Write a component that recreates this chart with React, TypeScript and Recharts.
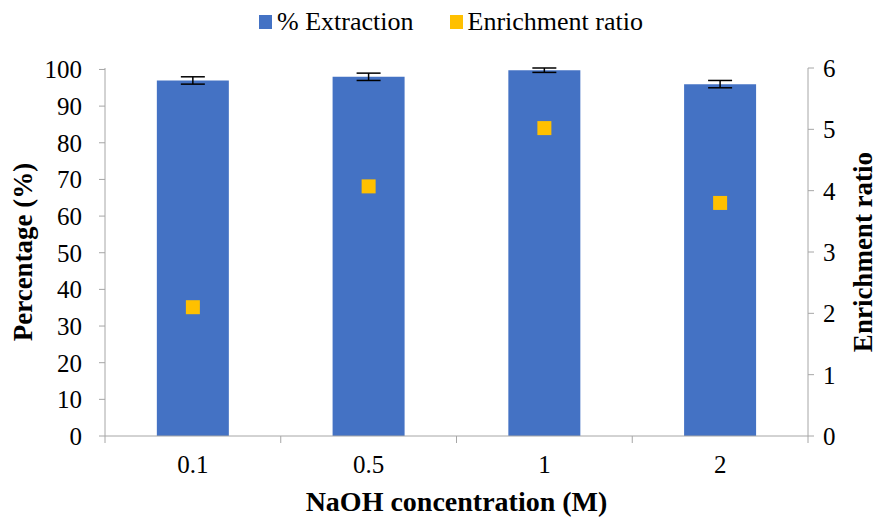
import { ComposedChart, Bar, Scatter, XAxis, YAxis, Legend, ErrorBar, Label } from 'recharts';

// NaOH concentration (M)
const concentrations = ['0.1', '0.5', '1', '2'];
// % Extraction (left axis)
const extraction = [97, 98, 99.8, 96];
const extractionErr = [1, 1, 0.6, 1];
// Enrichment ratio (right axis)
const enrichment = [2.1, 4.07, 5.02, 3.8];

const leftTicks = [0, 10, 20, 30, 40, 50, 60, 70, 80, 90, 100];
const rightTicks = [0, 1, 2, 3, 4, 5, 6];

const legendItems = [
  { name: '% Extraction', color: '#4472C4' },
  { name: 'Enrichment ratio', color: '#FFC000' },
];

const data = concentrations.map((c, i) => ({
  conc: c,
  extraction: extraction[i],
  err: extractionErr[i],
  enrichment: enrichment[i],
}));

const font = '"Liberation Serif", "Times New Roman", serif';
const axisColor = '#a6a6a6';

// tick label at band centre, tick marks at band edges (Excel style)
const CategoryTick = (props: any) => {
  const { x, y, payload, index, visibleTicksCount } = props;
  const half = payload.offset || 88;
  const isLast = index === visibleTicksCount - 1;
  return (
    <g>
      <line x1={x - half} x2={x - half} y1={y - 8} y2={y - 1} stroke={axisColor} />
      {isLast && <line x1={x + half} x2={x + half} y1={y - 8} y2={y - 1} stroke={axisColor} />}
      <text x={x} y={y + 29} textAnchor="middle" fontSize={25} fill="#000" fontFamily={font}>
        {payload.value}
      </text>
    </g>
  );
};

const SquareDot = (props: any) => {
  const { cx, cy } = props;
  if (cx == null || cy == null) return null;
  return <rect x={cx - 7} y={cy - 7} width={14} height={14} fill="#FFC000" />;
};

const LegendContent = () => (
  <div
    style={{
      display: 'flex',
      justifyContent: 'center',
      alignItems: 'center',
      height: 30,
      fontFamily: font,
      fontSize: 26,
      color: '#000',
      paddingLeft: 22,
    }}
  >
    {legendItems.map((item, i) => (
      <div key={item.name} style={{ display: 'flex', alignItems: 'center', marginLeft: i ? 36 : 0 }}>
        <span style={{ display: 'inline-block', width: 13, height: 14, background: item.color, marginRight: 5 }} />
        <span style={{ fontFamily: font, lineHeight: '30px' }}>{item.name}</span>
      </div>
    ))}
  </div>
);

const App = () => {
  return (
    <div style={{ position: 'absolute', left: 0, top: 0, background: '#fff' }}>
      <ComposedChart
        width={880}
        height={517}
        data={data}
        margin={{ top: 38, right: 0, bottom: 0, left: 0 }}
        barCategoryGap="29.5%"
        style={{ fontFamily: font }}
      >
        <XAxis
          dataKey="conc"
          stroke={axisColor}
          tickLine={false}
          tick={<CategoryTick />}
          height={81}
          interval={0}
        >
          <Label
            value="NaOH concentration (M)"
            position="insideBottom"
            offset={6}
            style={{ fontSize: 28, fontWeight: 'bold', fill: '#000', fontFamily: font }}
          />
        </XAxis>
        <YAxis
          yAxisId="left"
          domain={[0, 100]}
          ticks={leftTicks}
          interval={0}
          stroke={axisColor}
          tickSize={6}
          tickMargin={17}
          tick={{ fontSize: 25, fill: '#000', fontFamily: font }}
          width={105}
        >
          <Label
            value="Percentage (%)"
            angle={-90}
            position="insideLeft"
            offset={22}
            style={{ fontSize: 27, fontWeight: 'bold', fill: '#000', fontFamily: font, textAnchor: 'middle' }}
          />
        </YAxis>
        <YAxis
          yAxisId="right"
          orientation="right"
          domain={[0, 6]}
          ticks={rightTicks}
          interval={0}
          stroke={axisColor}
          tickSize={6}
          tickMargin={9}
          tick={{ fontSize: 25, fill: '#000', fontFamily: font }}
          width={72}
        >
          <Label
            value="Enrichment ratio"
            angle={-90}
            position="insideRight"
            offset={18}
            style={{ fontSize: 27, fontWeight: 'bold', fill: '#000', fontFamily: font, textAnchor: 'middle' }}
          />
        </YAxis>
        <Legend verticalAlign="top" align="center" wrapperStyle={{ top: 7 }} content={<LegendContent />} />
        <Bar
          yAxisId="left"
          dataKey="extraction"
          name="% Extraction"
          fill="#4472C4"
          legendType="square"
          isAnimationActive={false}
        >
          <ErrorBar dataKey="err" width={12} stroke="#000" strokeWidth={1.5} direction="y" />
        </Bar>
        <Scatter
          yAxisId="right"
          dataKey="enrichment"
          name="Enrichment ratio"
          fill="#FFC000"
          legendType="square"
          shape={<SquareDot />}
          isAnimationActive={false}
        />
      </ComposedChart>
    </div>
  );
};

export default App;
